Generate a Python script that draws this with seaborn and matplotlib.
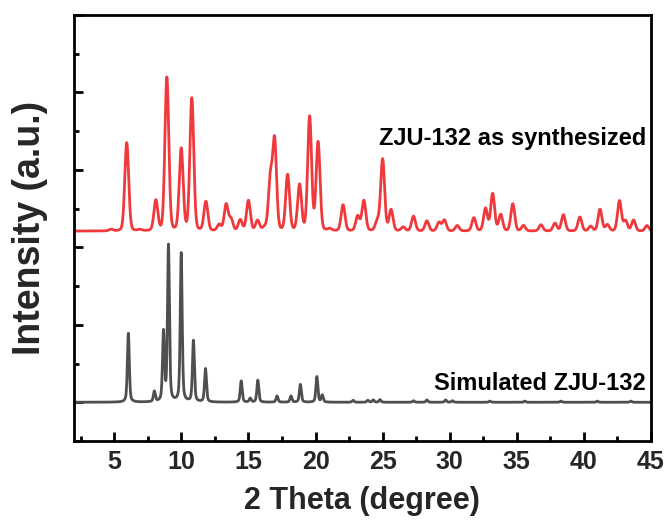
import numpy as np
import pandas as pd
import matplotlib
matplotlib.use("Agg")
import matplotlib.pyplot as plt
import seaborn as sns
from matplotlib.ticker import MultipleLocator

# ---- data (peak positions in 2-theta, heights in a.u.) ----
sim_pos = [6.05, 7.99, 8.67, 9.04, 9.99, 10.9, 11.8, 14.46, 15.13, 15.7, 17.13, 18.17,
           18.87, 20.1, 20.5, 22.8, 23.9, 24.3, 24.8, 27.3, 28.3, 29.7, 30.2, 33.0,
           35.6, 38.3, 41.0, 43.5]
sim_height = [890, 133, 890, 2015, 1920, 790, 430, 275, 50, 285, 80, 80,
              230, 330, 90, 25, 25, 30, 35, 20, 30, 30, 20, 15,
              15, 15, 15, 15]

syn_pos = [4.76, 5.93, 6.9, 8.1, 8.92, 9.99, 10.78, 11.83, 12.82, 13.34, 13.7, 14.39,
           15.0, 15.68, 16.2, 16.63, 16.95, 17.92, 18.81, 19.56, 20.19, 21.05, 22.05,
           23.14, 23.6, 24.6, 25.0, 25.63, 26.53, 27.3, 28.3, 29.2, 29.6, 30.56, 31.8,
           32.67, 33.2, 33.8, 34.7, 35.5, 36.8, 37.84, 38.47, 39.7, 40.5, 41.2, 41.75,
           42.65, 43.1, 43.7, 44.7]
syn_height = [20, 1140, 15, 390, 1980, 1055, 1710, 375, 80, 340, 150, 140,
              390, 130, 40, 650, 1150, 720, 590, 1470, 1140, 25, 335,
              190, 390, 120, 925, 270, 50, 190, 130, 110, 140, 70, 170,
              290, 480, 210, 350, 70, 80, 100, 210, 180, 60, 280, 80,
              390, 130, 140, 70]

syn_offset = 2210
labels = ["ZJU-132 as synthesized", "Simulated ZJU-132"]

# ---- build profiles ----
x = np.linspace(2, 45, 4301)

def profile(pos, hts, fwhm, eta):
    y = np.zeros_like(x)
    for p, h in zip(pos, hts):
        g = np.exp(-4 * np.log(2) * ((x - p) / fwhm) ** 2)
        l = 1.0 / (1.0 + 4 * ((x - p) / fwhm) ** 2)
        y += h * (eta * l + (1 - eta) * g)
    return y

y_sim = profile(sim_pos, sim_height, 0.17, 0.45)
y_syn = profile(syn_pos, syn_height, 0.34, 0.15) + syn_offset

df = pd.concat([
    pd.DataFrame({"x": x, "y": y_syn, "s": labels[0]}),
    pd.DataFrame({"x": x, "y": y_sim, "s": labels[1]}),
])

sns.set_theme(style="ticks")
plt.rcParams['font.family'] = ['Liberation Sans', 'DejaVu Sans']

fig = plt.figure(figsize=(6.69, 5.2), dpi=100)
ax = fig.add_axes([74/669, 1-441/520, (651-74)/669, (441-15)/520])

sns.lineplot(data=df, x="x", y="y", hue="s", palette={labels[0]: "#f0393c", labels[1]: "#4f4f4f"},
             linewidth=2, legend=False, ax=ax, estimator=None, sort=False)

ax.set_xlim(2, 45)
ax.set_ylim(-500, 5000)
ax.xaxis.set_minor_locator(MultipleLocator(2.5))
ax.yaxis.set_major_locator(MultipleLocator(1000))
ax.yaxis.set_minor_locator(MultipleLocator(500))
ax.set_xticks([5, 10, 15, 20, 25, 30, 35, 40, 45])
ax.set_yticklabels([])
ax.tick_params(axis='both', which='major', direction='in', length=6.5, width=2, color='black')
ax.tick_params(axis='both', which='minor', direction='in', length=3.5, width=2, color='black')
ax.tick_params(axis='x', labelsize=18, pad=6.5)
for lab in ax.get_xticklabels():
    lab.set_fontweight('bold')
for sp in ax.spines.values():
    sp.set_linewidth(2)
    sp.set_color('black')

ax.set_xlabel("2 Theta (degree)", fontsize=22, fontweight='bold', va='baseline')
ax.xaxis.set_label_coords(0.499, -0.160)
ax.set_ylabel("Intensity (a.u.)", fontsize=27, fontweight='bold', va='center')
ax.yaxis.set_label_coords(-0.076, 0.5)

ax.text(0.991, 0.711, labels[0], transform=ax.transAxes, ha='right', va='center',
        fontsize=17, fontweight='bold', color='black')
ax.text(0.991, 0.136, labels[1], transform=ax.transAxes, ha='right', va='center',
        fontsize=17, fontweight='bold', color='black')

fig.savefig("out.png", dpi=100)
